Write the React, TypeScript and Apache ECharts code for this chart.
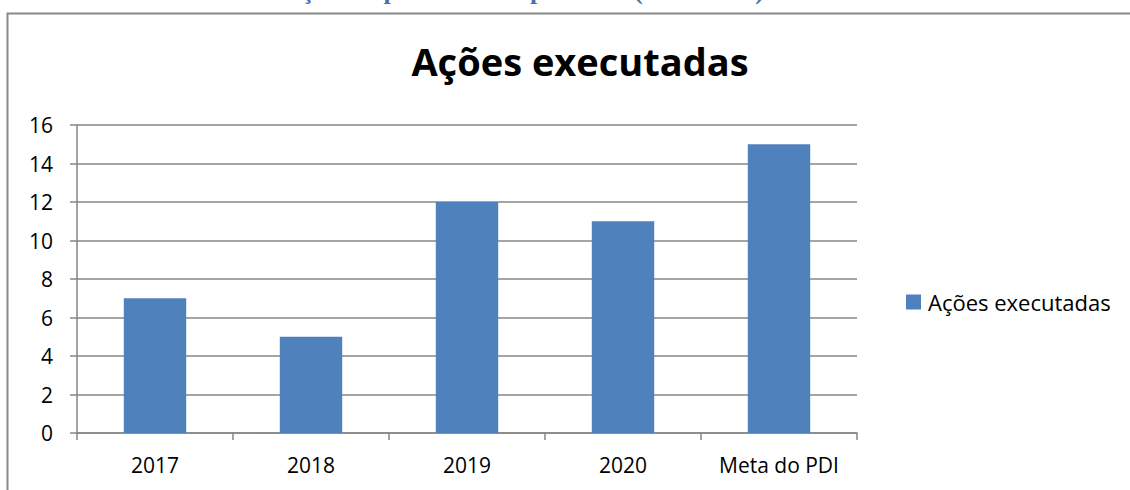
import React, { useEffect, useRef } from "react";
import * as echarts from "echarts";

const categories = ["2017", "2018", "2019", "2020", "Meta do PDI"];
const values = [7, 5, 12, 11, 15];
const seriesName = "Ações executadas";
const chartTitle = "Ações executadas";
const headingText = "2.1 Histórico de Ações implementadas pelo PDI (2017-2020)";

const FONT = "'Open Sans', 'Noto Sans', sans-serif";

export default function App() {
  const ref = useRef<HTMLDivElement>(null);
  useEffect(() => {
    document.body.style.margin = "0";
    const chart = echarts.init(ref.current!, undefined, { renderer: "svg" });
    chart.setOption({
      animation: false,
      backgroundColor: "#ffffff",
      textStyle: { fontFamily: FONT },
      title: {
        text: chartTitle,
        left: 575,
        top: 37,
        textAlign: "center",
        textStyle: { fontSize: 38, fontWeight: "bold", color: "#000", fontFamily: FONT },
      },
      graphic: [
        {
          type: "text",
          x: 764,
          y: 3,
          style: {
            text: headingText,
            align: "right",
            verticalAlign: "bottom",
            font: "bold 26px 'Liberation Serif', 'DejaVu Serif', serif",
            fill: "#4A72AA",
          },
        },
        {
          type: "rect",
          shape: { x: 7.5, y: 13.5, width: 1140, height: 500 },
          style: { fill: "none", stroke: "#888888", lineWidth: 2 },
          z: 100,
        },
      ],
      legend: {
        orient: "vertical",
        left: 901,
        top: 286,
        icon: "rect",
        itemWidth: 15,
        itemHeight: 15,
        itemGap: 8,
        textStyle: { fontSize: 22, color: "#000", fontFamily: FONT, padding: [0, 0, 0, 2] },
        data: [seriesName],
      },
      grid: { left: 77, right: 273, top: 125, bottom: 57, containLabel: false },
      xAxis: {
        type: "category",
        data: categories,
        axisLine: { lineStyle: { color: "#868686", width: 1.5 } },
        axisTick: { show: true, length: 7, lineStyle: { color: "#868686", width: 1.5 } },
        axisLabel: { fontSize: 21, color: "#000", margin: 21, fontFamily: FONT },
      },
      yAxis: {
        type: "value",
        min: 0,
        max: 16,
        interval: 2,
        axisLine: { show: true, lineStyle: { color: "#868686", width: 1.5 } },
        axisTick: { show: true, length: 7, lineStyle: { color: "#868686", width: 1.5 } },
        axisLabel: { fontSize: 21, color: "#000", margin: 24, fontFamily: FONT },
        splitLine: { lineStyle: { color: "#868686", width: 1.5 } },
      },
      series: [
        {
          name: seriesName,
          type: "bar",
          data: values,
          barWidth: "40%",
          itemStyle: { color: "#4F81BD" },
        },
      ],
    });
    return () => chart.dispose();
  }, []);
  return (
    <div
      ref={ref}
      style={{ position: "absolute", left: 0, top: 0, width: 1130, height: 490 }}
    />
  );
}
